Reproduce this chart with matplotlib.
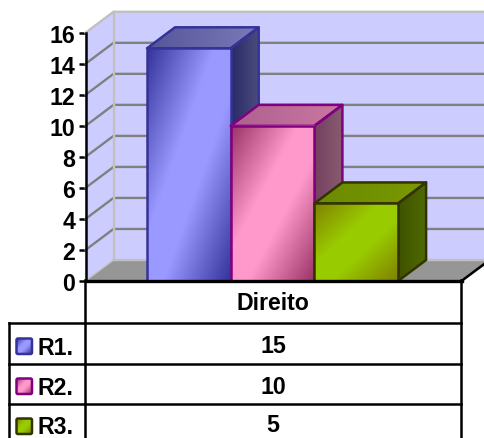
import numpy as np
import matplotlib
matplotlib.use('Agg')
import matplotlib.pyplot as plt
from matplotlib.colors import to_rgb
from matplotlib.patches import Polygon, FancyBboxPatch

plt.rcParams['font.family'] = ['Liberation Sans', 'DejaVu Sans']
plt.rcParams['font.weight'] = 'bold'

# data
category = 'Direito'
series = ['R1.', 'R2.', 'R3.']
values = [15, 10, 5]
yticks = list(range(0, 17, 2))

dark = ['#333399', '#993366', '#808000']
light = ['#9999ff', '#ff99cc', '#99cc00']
side_a = ['#2a2a66', '#74405f', '#3f5200']
side_b = ['#4c4c80', '#885a70', '#4f6a00']
top_a = ['#55559a', '#b06090', '#6b8a00']
top_b = ['#7a7ab8', '#c878a0', '#7a9900']
edges = ['#333399', '#800080', '#333300']

W, H = 485, 439
px_left, px_right, px_top, px_bottom = 85.5, 461.5, 33.8, 282
bar_px = 83.7
first_bar_px = 147
depth_px = (28, 21)

fig = plt.figure(figsize=(W / 100, H / 100), dpi=100, facecolor='white')
ax = fig.add_axes([px_left / W, 1 - px_bottom / H, (px_right - px_left) / W, (px_bottom - px_top) / H])
ax.set_facecolor('none')

x_lo = -0.5 - (first_bar_px - px_left) / bar_px
x_hi = -0.5 + (px_right - first_bar_px) / bar_px
dx = depth_px[0] / bar_px
dy = depth_px[1] / ((px_bottom - px_top) / 16)
right_edge = x_lo + (W - px_left) / bar_px + 0.1


def diag_gradient(c_dark, c_light, n=120):
    # dark in two opposite corners, light band through the middle
    a, b = np.array(to_rgb(c_dark)), np.array(to_rgb(c_light))
    u, v = np.meshgrid(np.linspace(0, 1, n), np.linspace(0, 1, n))
    s = (u + v) / 2
    t = np.clip((0.5 - np.abs(s - 0.5)) / 0.4, 0, 1)[..., None]
    return a + (b - a) * t


def flat_gradient(c_a, c_b, n=60):
    a, b = np.array(to_rgb(c_a)), np.array(to_rgb(c_b))
    t = np.linspace(0, 1, n)[None, :, None]
    return a + (b - a) * t


def shaded_face(pts, c_a, c_b, edge, z):
    poly = Polygon(pts, closed=True, facecolor='none', edgecolor=edge, lw=1.8, zorder=z + 0.1,
                   joinstyle='round', clip_on=False)
    ax.add_patch(poly)
    xs, ys = zip(*pts)
    im = ax.imshow(flat_gradient(c_a, c_b), extent=(min(xs), max(xs), min(ys), max(ys)),
                   aspect='auto', zorder=z, interpolation='bilinear')
    im.set_clip_path(poly)
    im.set_clip_box(fig.bbox)


# walls and floor
ax.add_patch(Polygon([(x_lo, 0), (x_lo + dx, dy), (right_edge, dy), (x_hi, 0)], facecolor='#969696',
                     edgecolor='none', zorder=1, clip_on=False))
ax.add_patch(Polygon([(x_lo + dx, dy), (x_lo + dx, 16 + dy), (right_edge, 16 + dy), (right_edge, dy)],
                     facecolor='#ccccff', edgecolor='none', zorder=1, clip_on=False))
ax.add_patch(Polygon([(x_lo, 0), (x_lo, 16), (x_lo + dx, 16 + dy), (x_lo + dx, dy)],
                     facecolor='#ccccff', edgecolor='none', zorder=1, clip_on=False))
for t in yticks[1:-1]:
    ax.plot([x_lo, x_lo + dx, right_edge], [t, t + dy, t + dy], color='#808080', lw=1.7, zorder=2,
            clip_on=False, solid_joinstyle='miter')
ax.plot([x_lo, x_lo + dx, right_edge], [16, 16 + dy, 16 + dy], color='#c0c0c0', lw=1.7, zorder=2, clip_on=False)
ax.plot([x_lo + dx, x_lo + dx], [dy, 16 + dy], color='#c0c0c0', lw=1.7, zorder=2, clip_on=False)
ax.plot([x_lo + dx, right_edge], [dy, dy], color='#c0c0c0', lw=1.7, zorder=2, clip_on=False)
ax.plot([x_lo, x_lo + dx], [0, dy], color='#c0c0c0', lw=1, zorder=2, clip_on=False)
ax.plot([x_hi, x_hi + dx], [0, dy], color='black', lw=1.8, zorder=2, clip_on=False)

# bars
for i, v in enumerate(values):
    z = 5 + i * 2
    l, r = i - 0.5, i + 0.5
    shaded_face([(r, 0), (r + dx, dy), (r + dx, v + dy), (r, v)], side_a[i], side_b[i], edges[i], z)
    shaded_face([(l, v), (r, v), (r + dx, v + dy), (l + dx, v + dy)], top_a[i], top_b[i], edges[i], z)
    ax.imshow(diag_gradient(dark[i], light[i]), extent=(l, r, 0, v), aspect='auto', zorder=z + 0.5,
              interpolation='bilinear', clip_on=False)
    ax.bar(i, v, width=1, facecolor='none', edgecolor=edges[i], lw=1.8, zorder=z + 0.6, clip_on=False)

ax.set_xlim(x_lo, x_hi)
ax.set_ylim(0, 16)
ax.set_xticks([])
ax.set_yticks(yticks)
ax.tick_params(axis='y', length=5, width=1.8, color='black', labelsize=16.7, pad=2.5)
for s in ['top', 'right']:
    ax.spines[s].set_visible(False)
ax.spines['left'].set_linewidth(1.8)
ax.spines['bottom'].set_linewidth(2.4)
ax.spines['left'].set_zorder(20)
ax.spines['bottom'].set_zorder(20)

# data table, in pixel coordinates
tb = fig.add_axes([0, 0, 1, 1], facecolor='none')
tb.axis('off')
row_y = [323.8, 364.8, 404.8]
label_base = [355, 395, 434]
value_base = [353.5, 394, 432.5]
key_mid = [347, 387, 427]
tb.plot([85.5, 85.5], [281, H], color='black', lw=1.8)
tb.plot([461.5, 461.5], [281, H], color='black', lw=1.8)
tb.plot([9.5, 9.5], [row_y[0], H], color='black', lw=1.8)
for y in row_y:
    tb.plot([9.5, 461.5], [y, y], color='black', lw=1.8)
tb.text(272.5, 310.5, category, ha='center', va='baseline', fontsize=16.7, color='black')
for i, name in enumerate(series):
    tb.text(38, label_base[i], name, ha='left', va='baseline', fontsize=16.7, color='black')
    tb.text(273, value_base[i], str(values[i]), ha='center', va='baseline', fontsize=16.7, color='black')
    key = FancyBboxPatch((16.5, key_mid[i] - 7.5), 15.5, 15.5, boxstyle='round,pad=0,rounding_size=1.5',
                         facecolor='none', edgecolor=edges[i], lw=1.8, zorder=4)
    tb.add_patch(key)
    im = tb.imshow(diag_gradient(dark[i], light[i], 30), extent=(16.5, 32, key_mid[i] + 8, key_mid[i] - 7.5),
                   aspect='auto', zorder=3, interpolation='bilinear')
    im.set_clip_path(key)
tb.set_xlim(0, W)
tb.set_ylim(H, 0)

fig.savefig('out.png', dpi=100)
